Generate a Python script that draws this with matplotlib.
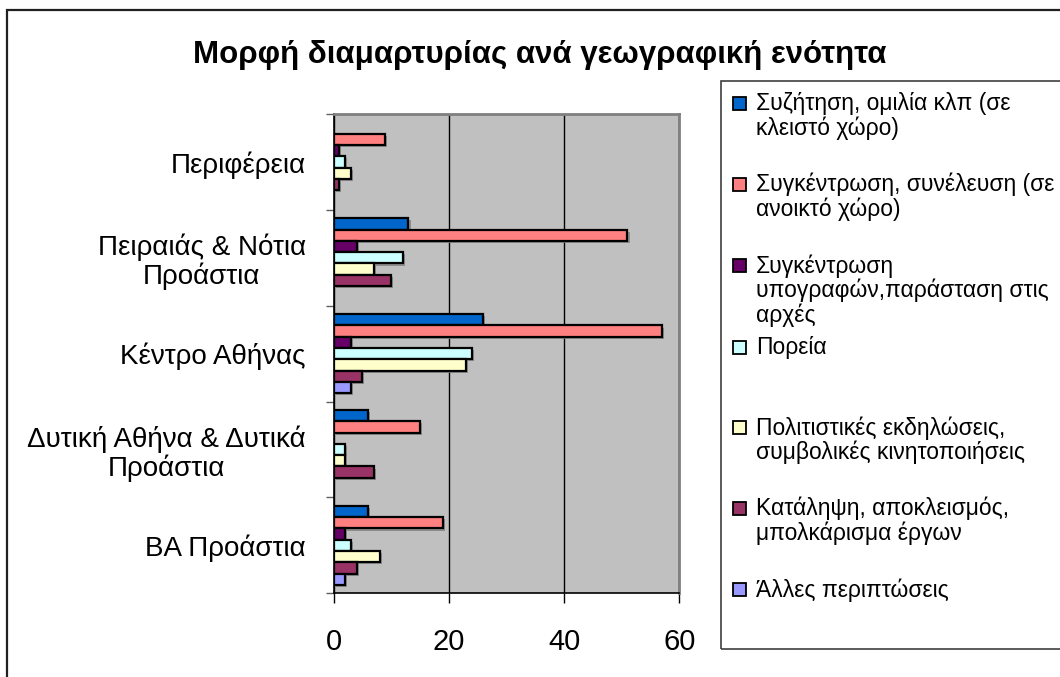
import matplotlib.pyplot as plt
import matplotlib.patheffects as pe
from matplotlib.patches import Rectangle
import numpy as np

plt.rcParams['font.family'] = ['Liberation Sans', 'DejaVu Sans']

# categories bottom -> top
regions = ["ΒΑ Προάστια", "Δυτική Αθήνα & Δυτικά\nΠροάστια", "Κέντρο Αθήνας",
           "Πειραιάς & Νότια\nΠροάστια", "Περιφέρεια"]

series_labels = [
    "Συζήτηση, ομιλία κλπ (σε\nκλειστό χώρο)",
    "Συγκέντρωση, συνέλευση (σε\nανοικτό χώρο)",
    "Συγκέντρωση\nυπογραφών,παράσταση στις\nαρχές",
    "Πορεία",
    "Πολιτιστικές εκδηλώσεις,\nσυμβολικές κινητοποιήσεις",
    "Κατάληψη, αποκλεισμός,\nμπολκάρισμα έργων",
    "Άλλες περιπτώσεις",
]
colors = ["#0066CC", "#FF8080", "#660066", "#CCFFFF", "#FFFFCC", "#993366", "#9999FF"]

# values per series, same order as regions (bottom -> top)
discussion = [6, 6, 26, 13, 0]
assembly = [19, 15, 57, 51, 9]
signatures = [2, 0, 3, 4, 1]
march = [3, 2, 24, 12, 2]
cultural = [8, 2, 23, 7, 3]
occupation = [4, 7, 5, 10, 1]
other = [2, 0, 3, 0, 0]
series_values = [discussion, assembly, signatures, march, cultural, occupation, other]

W, H = 1060, 677
fig = plt.figure(figsize=(W / 100, H / 100), dpi=100)
ax = fig.add_axes([333.5 / W, 1 - 593.3 / H, (679.3 - 333.5) / W, (593.3 - 114) / H])
ax.set_facecolor("#C0C0C0")

n = len(series_labels)
h = 1 / (n + 1.5)
y = np.arange(len(regions))
shadow = [pe.SimplePatchShadow(offset=(1.5, -1.5), shadow_rgbFace="#808080", alpha=0.8), pe.Normal()]
for i, (vals, c) in enumerate(zip(series_values, colors)):
    bars = ax.barh(y + (3 - i) * h, vals, height=h, color=c, edgecolor="black",
                   linewidth=1.6, zorder=3)
    for b in bars:
        if b.get_width() > 0:
            b.set_path_effects(shadow)
        else:
            b.set_visible(False)

ax.set_xlim(0, 60)
ax.set_ylim(-0.5, len(regions) - 0.5)
ax.set_xticks([0, 20, 40, 60])
ax.tick_params(axis="x", direction="out", length=7, width=1, labelsize=21, pad=18)
ax.xaxis.grid(True, color="black", linewidth=1, zorder=1)
ax.set_axisbelow(True)

ax.set_yticks(np.arange(-0.5, len(regions), 1.0))
ax.set_yticklabels([])
ax.set_yticks(y, minor=True)
ax.set_yticklabels(regions, minor=True, fontsize=20, ha="right", multialignment="center",
                   linespacing=1.1)
ax.tick_params(axis="y", which="major", direction="out", length=6, width=1, color="#606060")
ax.tick_params(axis="y", which="minor", length=0, pad=20)

for s in ["top", "right"]:
    ax.spines[s].set_color("#808080")
    ax.spines[s].set_linewidth(2)
for s in ["left", "bottom"]:
    ax.spines[s].set_color("black")
    ax.spines[s].set_linewidth(1.2)

fig.text(540 / W, 1 - 63 / H, "Μορφή διαμαρτυρίας ανά γεωγραφική ενότητα",
         ha="center", va="baseline", fontsize=22.5, fontweight="bold")

# outer chart border
fig.patches.append(Rectangle((7 / W, -0.1), 1.2, 1 - 10 / H + 0.1, transform=fig.transFigure,
                             fill=False, edgecolor="#202020", linewidth=1.6))
# legend box
fig.patches.append(Rectangle((721 / W, 1 - 649 / H), 0.5, (649 - 81) / H, transform=fig.transFigure,
                             fill=False, edgecolor="#404040", linewidth=1.2))

# legend entries
for i, (lab, c) in enumerate(zip(series_labels, colors)):
    ty = 103 + i * 81
    if i == 3:
        ty = 347
    fig.patches.append(Rectangle((733 / W, 1 - (ty + 6.5) / H), 13 / W, 13 / H,
                                 transform=fig.transFigure, facecolor=c,
                                 edgecolor="black", linewidth=1.3))
    fig.text(756 / W, 1 - (ty - 11) / H, lab, ha="left", va="top",
             fontsize=16.5, linespacing=1.08)

fig.savefig("out.png", dpi=100)
